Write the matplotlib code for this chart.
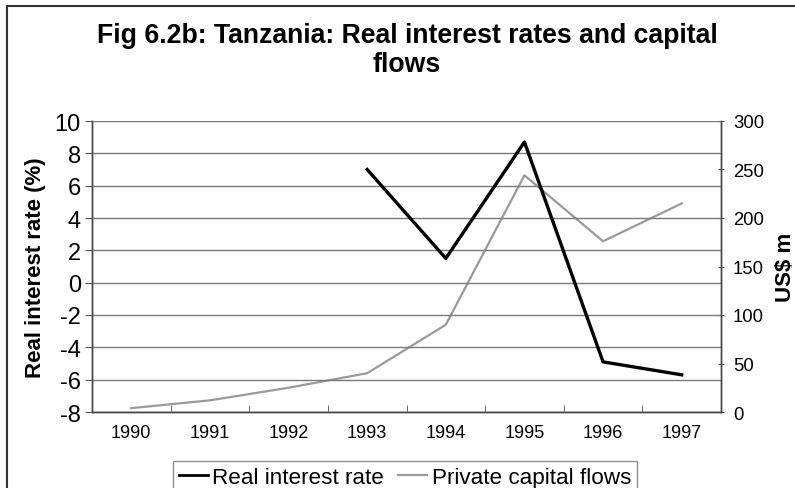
import numpy as np
import matplotlib
matplotlib.use("Agg")
import matplotlib.pyplot as plt
from matplotlib.lines import Line2D
from matplotlib.patches import Rectangle

plt.rcParams['font.family'] = ['Liberation Sans', 'DejaVu Sans']
plt.rcParams['axes.unicode_minus'] = False

years = ["1990", "1991", "1992", "1993", "1994", "1995", "1996", "1997"]
real_interest_rate = [np.nan, np.nan, np.nan, 7.0, 1.5, 8.7, -4.9, -5.7]
private_capital_flows = [4, 12, 25, 40, 90, 244, 176, 215]

W, H = 795, 489
fig = plt.figure(figsize=(W / 100, H / 100), dpi=100)

# outer chart border (left and top edges visible)
fig.patches.append(Rectangle((7 / W, -0.1), 1.2, 1 - 7 / H + 0.1,
                             transform=fig.transFigure, fill=False,
                             edgecolor='#333333', linewidth=1.5))

ax = fig.add_axes([92 / W, 1 - 413 / H, (721 - 92) / W, (413 - 122) / H])
ax2 = ax.twinx()

x = np.arange(len(years))
ax.set_xlim(-0.5, len(years) - 0.5)
ax.set_ylim(-8, 10)
ax.set_yticks(np.arange(-8, 11, 2))
ax.grid(axis='y', color='#7a7a7a', linewidth=1.0)
ax.set_axisbelow(True)

ax2.set_ylim(0, 300)
ax2.set_yticks(np.arange(0, 301, 50))

ax2.plot(x, private_capital_flows, color='#9a9a9a', linewidth=1.6, zorder=2)
ax.plot(x, real_interest_rate, color='black', linewidth=2.4, zorder=3)
ax.set_zorder(ax2.get_zorder() + 1)
ax.patch.set_visible(False)

# category axis: labels centred, ticks on category boundaries
ax.set_xticks(x)
ax.set_xticklabels(years, fontsize=13)
ax.set_xticks(np.arange(0.5, len(years) - 0.5, 1), minor=True)
ax.tick_params(axis='x', which='major', length=0, pad=9)
ax.tick_params(axis='x', which='minor', direction='in', length=5, color='#555555')

ax.tick_params(axis='y', labelsize=17, length=5, color='#555555', pad=3)
ax2.tick_params(axis='y', labelsize=13.3, length=5, direction='inout', color='#555555', pad=6)

for a in (ax, ax2):
    a.spines['top'].set_visible(False)
    for s in ('left', 'right', 'bottom'):
        a.spines[s].set_color('#444444')
        a.spines[s].set_linewidth(1.0)

ax.set_ylabel("Real interest rate (%)", fontsize=16, fontweight='bold', labelpad=6)
ax2.set_ylabel("US$ m", fontsize=16, fontweight='bold', labelpad=8)

fig.text(0.512, 1 - 51 / H, "Fig 6.2b: Tanzania: Real interest rates and capital\nflows",
         ha='center', va='center', fontsize=19.2, fontweight='bold', linespacing=1.15)

handles = [Line2D([], [], color='black', linewidth=2.0),
           Line2D([], [], color='#9a9a9a', linewidth=1.6)]
leg = fig.legend(handles, ["Real interest rate", "Private capital flows"],
                 loc='upper left', bbox_to_anchor=(173 / W, 1 - 462 / H),
                 ncol=2, fontsize=16.2, frameon=True, fancybox=False,
                 handlelength=1.3, handletextpad=0.2, columnspacing=0.6,
                 borderpad=0.25, borderaxespad=0)
leg.get_frame().set_edgecolor('#777777')
leg.get_frame().set_linewidth(1.0)

fig.savefig("out.png", dpi=100)
